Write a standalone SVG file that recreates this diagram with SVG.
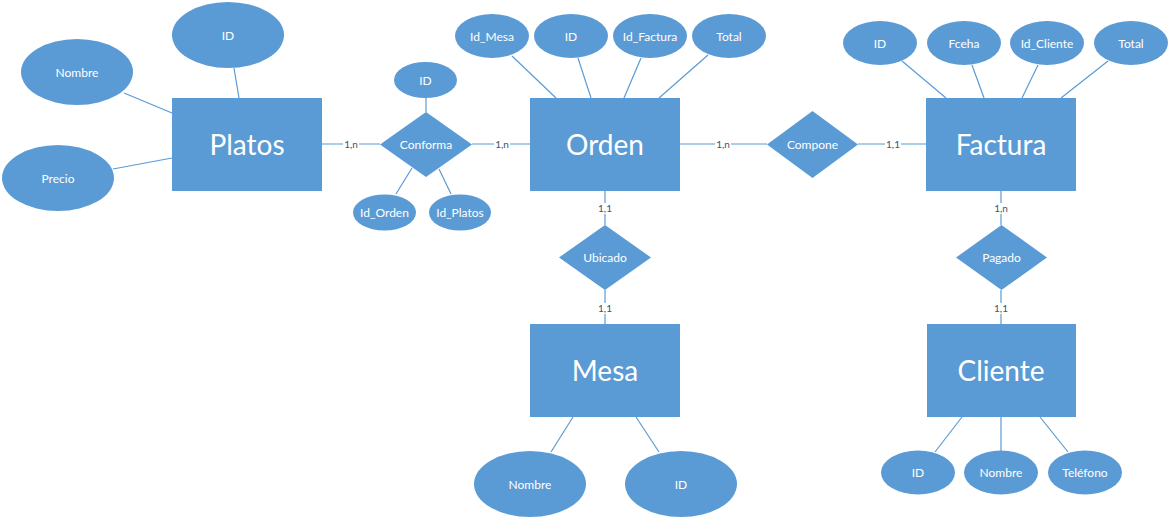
<svg xmlns="http://www.w3.org/2000/svg" width="1170" height="519" viewBox="0 0 1170 519">
<style>
.shape{fill:#5B9BD5;stroke:none}
.ln{stroke:#5B9BD5;stroke-width:1.2;fill:none}
.ent{font-family:Lato,"Open Sans",sans-serif;font-size:28px;fill:#fff;text-anchor:middle;dominant-baseline:central}
.att{font-family:Lato,"Open Sans",sans-serif;font-size:12px;fill:#fff;text-anchor:middle;dominant-baseline:central}
.card{font-family:Lato,"Open Sans",sans-serif;font-size:10px;fill:#44546A;text-anchor:middle;dominant-baseline:central}
.bg{fill:#fff}
</style>
<rect width="1170" height="519" fill="#fff"/>
<g id="connectors">
<line class="ln" x1="234" y1="68" x2="239" y2="98"/>
<line class="ln" x1="124" y1="93" x2="172" y2="113"/>
<line class="ln" x1="113" y1="169" x2="172" y2="158"/>
<line class="ln" x1="322" y1="144" x2="380" y2="144"/>
<line class="ln" x1="472" y1="144" x2="530" y2="144"/>
<line class="ln" x1="426" y1="98" x2="426" y2="112"/>
<line class="ln" x1="412" y1="168" x2="396" y2="194"/>
<line class="ln" x1="439" y1="169" x2="451" y2="194"/>
<line class="ln" x1="512" y1="56" x2="556" y2="98"/>
<line class="ln" x1="578" y1="58" x2="591" y2="98"/>
<line class="ln" x1="641" y1="58" x2="624" y2="98"/>
<line class="ln" x1="708" y1="55" x2="659" y2="98"/>
<line class="ln" x1="680" y1="144" x2="767" y2="144"/>
<line class="ln" x1="858" y1="144" x2="926" y2="144"/>
<line class="ln" x1="902" y1="61" x2="946" y2="98"/>
<line class="ln" x1="972" y1="65" x2="984" y2="98"/>
<line class="ln" x1="1038" y1="65" x2="1022" y2="98"/>
<line class="ln" x1="1108" y1="61" x2="1061" y2="98"/>
<line class="ln" x1="605" y1="191" x2="605" y2="225"/>
<line class="ln" x1="605" y1="290" x2="605" y2="324"/>
<line class="ln" x1="573" y1="417" x2="551" y2="452"/>
<line class="ln" x1="636" y1="417" x2="659" y2="452"/>
<line class="ln" x1="1001" y1="191" x2="1001" y2="225"/>
<line class="ln" x1="1001" y1="290" x2="1001" y2="324"/>
<line class="ln" x1="962" y1="417" x2="935" y2="452"/>
<line class="ln" x1="1001" y1="417" x2="1001" y2="451"/>
<line class="ln" x1="1040" y1="417" x2="1068" y2="452"/>
<rect class="bg" x="343" y="139" width="16" height="11"/>
<text class="card" x="351" y="144">1,n</text>
<rect class="bg" x="494" y="139" width="16" height="11"/>
<text class="card" x="502" y="144">1,n</text>
<rect class="bg" x="715" y="139" width="16" height="11"/>
<text class="card" x="723" y="144">1,n</text>
<rect class="bg" x="885" y="139" width="16" height="11"/>
<text class="card" x="893" y="144">1,1</text>
<rect class="bg" x="597" y="203" width="16" height="11"/>
<text class="card" x="605" y="208">1,1</text>
<rect class="bg" x="597" y="303" width="16" height="11"/>
<text class="card" x="605" y="308">1,1</text>
<rect class="bg" x="993" y="203" width="16" height="11"/>
<text class="card" x="1001" y="208">1,n</text>
<rect class="bg" x="993" y="303" width="16" height="11"/>
<text class="card" x="1001" y="308">1,1</text>
</g>
<g id="platos"><rect class="shape" x="172" y="98" width="150" height="93"/><text class="ent" x="247" y="144">Platos</text></g>
<g id="platos-id"><ellipse class="shape" cx="228" cy="35" rx="56" ry="33"/><text class="att" x="228" y="35">ID</text></g>
<g id="platos-nombre"><ellipse class="shape" cx="77" cy="72" rx="56" ry="33"/><text class="att" x="77" y="72">Nombre</text></g>
<g id="platos-precio"><ellipse class="shape" cx="58" cy="178" rx="56" ry="33"/><text class="att" x="58" y="178">Precio</text></g>
<g id="conforma"><polygon class="shape" points="426,112 472,144.5 426,177 380,144.5"/><text class="att" x="426" y="144">Conforma</text></g>
<g id="conforma-id"><ellipse class="shape" cx="425.5" cy="80" rx="31.5" ry="18"/><text class="att" x="425.5" y="80">ID</text></g>
<g id="conforma-idorden"><ellipse class="shape" cx="384.5" cy="212.5" rx="31.5" ry="18"/><text class="att" x="384.5" y="212.5">Id_Orden</text></g>
<g id="conforma-idplatos"><ellipse class="shape" cx="460" cy="212.5" rx="31" ry="18"/><text class="att" x="460" y="212.5">Id_Platos</text></g>
<g id="orden"><rect class="shape" x="530" y="98" width="150" height="93"/><text class="ent" x="605" y="144">Orden</text></g>
<g id="orden-idmesa"><ellipse class="shape" cx="492" cy="36" rx="37" ry="22"/><text class="att" x="492" y="36">Id_Mesa</text></g>
<g id="orden-id"><ellipse class="shape" cx="571" cy="36" rx="37" ry="22"/><text class="att" x="571" y="36">ID</text></g>
<g id="orden-idfactura"><ellipse class="shape" cx="650" cy="36" rx="37" ry="22"/><text class="att" x="650" y="36">Id_Factura</text></g>
<g id="orden-total"><ellipse class="shape" cx="729" cy="36" rx="37" ry="22"/><text class="att" x="729" y="36">Total</text></g>
<g id="compone"><polygon class="shape" points="812.5,111 858,144.5 812.5,178 767,144.5"/><text class="att" x="812.5" y="144">Compone</text></g>
<g id="factura"><rect class="shape" x="926" y="98" width="150" height="93"/><text class="ent" x="1001" y="144">Factura</text></g>
<g id="factura-id"><ellipse class="shape" cx="880" cy="43" rx="37" ry="22"/><text class="att" x="880" y="43">ID</text></g>
<g id="factura-fceha"><ellipse class="shape" cx="964" cy="43" rx="37" ry="22"/><text class="att" x="964" y="43">Fceha</text></g>
<g id="factura-idcliente"><ellipse class="shape" cx="1047" cy="43" rx="37" ry="22"/><text class="att" x="1047" y="43">Id_Cliente</text></g>
<g id="factura-total"><ellipse class="shape" cx="1131" cy="43" rx="37" ry="22"/><text class="att" x="1131" y="43">Total</text></g>
<g id="ubicado"><polygon class="shape" points="605,225 651,257.5 605,290 559,257.5"/><text class="att" x="605" y="257.5">Ubicado</text></g>
<g id="mesa"><rect class="shape" x="530" y="324" width="150" height="93"/><text class="ent" x="605" y="370">Mesa</text></g>
<g id="mesa-nombre"><ellipse class="shape" cx="530" cy="484" rx="56" ry="33"/><text class="att" x="530" y="484">Nombre</text></g>
<g id="mesa-id"><ellipse class="shape" cx="681" cy="484" rx="56" ry="33"/><text class="att" x="681" y="484">ID</text></g>
<g id="pagado"><polygon class="shape" points="1001.5,225 1047,257.5 1001.5,290 956,257.5"/><text class="att" x="1001.5" y="257.5">Pagado</text></g>
<g id="cliente"><rect class="shape" x="927" y="324" width="149" height="93"/><text class="ent" x="1001" y="370">Cliente</text></g>
<g id="cliente-id"><ellipse class="shape" cx="918" cy="472.5" rx="37" ry="22"/><text class="att" x="918" y="472.5">ID</text></g>
<g id="cliente-nombre"><ellipse class="shape" cx="1001" cy="472.5" rx="37" ry="22"/><text class="att" x="1001" y="472.5">Nombre</text></g>
<g id="cliente-telefono"><ellipse class="shape" cx="1085" cy="472.5" rx="37" ry="22"/><text class="att" x="1085" y="472.5">Teléfono</text></g>
</svg>
